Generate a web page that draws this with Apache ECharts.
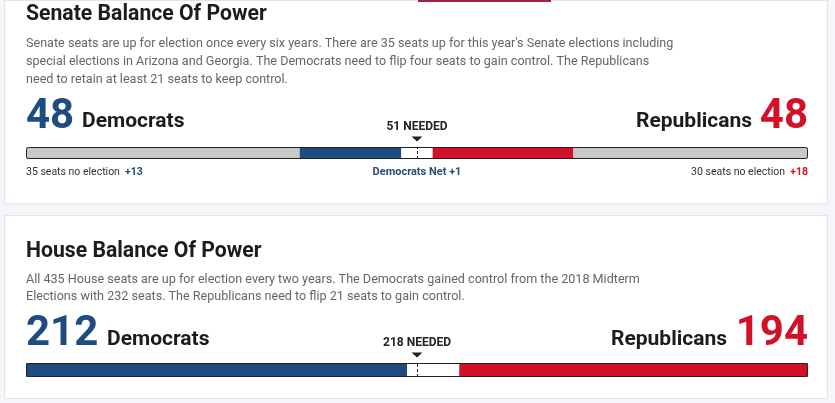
<!DOCTYPE html>
<html><head><meta charset="utf-8">
<script src="https://cdn.jsdelivr.net/npm/echarts@6/dist/echarts.min.js"></script>
<style>html,body{margin:0;padding:0;background:#f4f6f9;}#c{width:835px;height:403px;}</style>
</head><body><div id="c"></div>
<script>
// ---- data ----
const senateSegments = ['Dem no election', 'Dem up', 'Undecided', 'Rep up', 'Rep no election'];
const senateSeats = [35, 13, 4, 18, 30];
const senateNeeded = 51;
const senateNetLabel = 'Democrats Net +1';
const houseSegments = ['Democrats', 'Undecided', 'Republicans'];
const houseSeats = [212, 29, 194];
const houseNeeded = 218;
const senateText = "Senate seats are up for election once every six years. There are 35 seats up for this year's Senate elections including\nspecial elections in Arizona and Georgia. The Democrats need to flip four seats to gain control. The Republicans\nneed to retain at least 21 seats to keep control.";
const houseText = "All 435 House seats are up for election every two years. The Democrats gained control from the 2018 Midterm\nElections with 232 seats. The Republicans need to flip 21 seats to gain control.";

// ---- styles ----
const BLUE = '#1e4c7e', RED = '#d21028', GREY = '#c8c8c8', WHITE = '#ffffff', INK = '#1c1c1c';
const FONT = 'Roboto, "Noto Sans", sans-serif';
const senateColors = [GREY, BLUE, WHITE, RED, GREY];
const houseColors = [BLUE, WHITE, RED];

const sum = a => a.reduce((s, v) => s + v, 0);
const senateTotal = sum(senateSeats);
const houseTotal = sum(houseSeats);
const senDem = senateSeats[0] + senateSeats[1];
const senRep = senateSeats[3] + senateSeats[4];

const chart = echarts.init(document.getElementById('c'), null, {renderer: 'canvas'});

function barSeries(names, values, colors, idx, stack, total, needed, barW, radius) {
  const out = names.map((n, i) => {
    const s = {
      type: 'bar', name: n, stack: stack, xAxisIndex: idx, yAxisIndex: idx,
      barWidth: barW, barGap: '-100%', silent: true,
      data: [values[i]],
      itemStyle: {color: colors[i]},
      animation: false
    };
    if (n === 'Undecided') {
      s.markLine = {
        silent: true, symbol: ['none', 'none'], animation: false,
        lineStyle: {color: '#222', type: [3, 2], width: 1},
        label: {show: false},
        data: [{xAxis: total / 2}]
      };
      s.markPoint = {
        silent: true, animation: false,
        data: [{
          coord: [total / 2, 0], symbol: 'triangle', symbolRotate: 180,
          symbolSize: [11, 5], symbolOffset: [0, -(barW / 2 + 8)],
          itemStyle: {color: '#222'},
          label: {show: true, position: 'top', distance: 4, formatter: needed + ' NEEDED',
                  color: '#222', fontFamily: FONT, fontWeight: 'bold', fontSize: 12}
        }]
      };
    }
    return s;
  });
  out.push({
    type: 'bar', name: 'outline', xAxisIndex: idx, yAxisIndex: idx,
    barWidth: barW, barGap: '-100%', silent: true, z: 5, animation: false,
    data: [total],
    itemStyle: {color: 'rgba(0,0,0,0)', borderColor: '#222', borderWidth: 1, borderRadius: radius}
  });
  return out;
}

const txt = (x, y, text, size, color, weight, align, va) => ({
  type: 'text', x: x, y: y, silent: true,
  style: {text: text, fontSize: size, fill: color, fontWeight: weight || 'normal',
          fontFamily: FONT, align: align || 'left', verticalAlign: va || 'middle'}
});

const rich = (x, y, a, b, bColor, align) => ({
  type: 'text', x: x, y: y, silent: true, style: {
    text: '{a|' + a + '}  {b|' + b + '}', fontFamily: FONT, fontSize: 10.5,
    align: align || 'left', verticalAlign: 'middle',
    rich: {a: {fontSize: 10.5, fill: '#333', fontFamily: FONT},
           b: {fontSize: 10.5, fill: bColor, fontWeight: 'bold', fontFamily: FONT}}}
});

const graphics = [
  {type: 'rect', shape: {x: 4.5, y: 0.5, width: 823, height: 203.5}, style: {fill: '#fff', stroke: '#dde4ec', lineWidth: 1}, silent: true, z: -10},
  {type: 'rect', shape: {x: 4.5, y: 215.5, width: 823, height: 183}, style: {fill: '#fff', stroke: '#dde4ec', lineWidth: 1}, silent: true, z: -10},
  {type: 'rect', shape: {x: 418, y: 0, width: 133, height: 2}, style: {fill: '#a3213d'}, silent: true},
  // Senate
  txt(26, 15, 'Senate Balance Of Power', 21.2, INK, 'bold'),
  {type: 'text', x: 26, y: 34.5, silent: true, style: {text: senateText, fontSize: 12.6, lineHeight: 18, fill: '#666', fontFamily: FONT, verticalAlign: 'top'}},
  txt(26, 117, String(senDem), 42, BLUE, 'bold'),
  txt(82, 122, 'Democrats', 21, INK, 'bold'),
  txt(808, 117, String(senRep), 42, RED, 'bold', 'right'),
  txt(752, 122, 'Republicans', 21, INK, 'bold', 'right'),
  rich(26, 172, senateSeats[0] + ' seats no election', '+' + senateSeats[1], BLUE, 'left'),
  rich(808, 172, senateSeats[4] + ' seats no election', '+' + senateSeats[3], RED, 'right'),
  txt(417, 172, senateNetLabel, 11, '#2a4a78', 'bold', 'center'),
  // House
  txt(26, 251.5, 'House Balance Of Power', 21.2, INK, 'bold'),
  {type: 'text', x: 26, y: 271, silent: true, style: {text: houseText, fontSize: 12.6, lineHeight: 17.5, fill: '#666', fontFamily: FONT, verticalAlign: 'top'}},
  txt(26, 334, String(houseSeats[0]), 42, BLUE, 'bold'),
  txt(107, 339.5, 'Democrats', 21, INK, 'bold'),
  txt(808, 334, String(houseSeats[2]), 42, RED, 'bold', 'right'),
  txt(727, 339.5, 'Republicans', 21, INK, 'bold', 'right')
];

chart.setOption({
  animation: false,
  grid: [
    {left: 26, right: 27, top: 147, height: 12},
    {left: 26, right: 27, top: 363, height: 14}
  ],
  xAxis: [
    {type: 'value', gridIndex: 0, min: 0, max: senateTotal, show: false},
    {type: 'value', gridIndex: 1, min: 0, max: houseTotal, show: false}
  ],
  yAxis: [
    {type: 'category', gridIndex: 0, data: ['Senate'], show: false},
    {type: 'category', gridIndex: 1, data: ['House'], show: false}
  ],
  series: [].concat(
    barSeries(senateSegments, senateSeats, senateColors, 0, 'sen', senateTotal, senateNeeded, 12, 2),
    barSeries(houseSegments, houseSeats, houseColors, 1, 'house', houseTotal, houseNeeded, 14, 3)
  ),
  graphic: graphics
});
</script></body></html>
